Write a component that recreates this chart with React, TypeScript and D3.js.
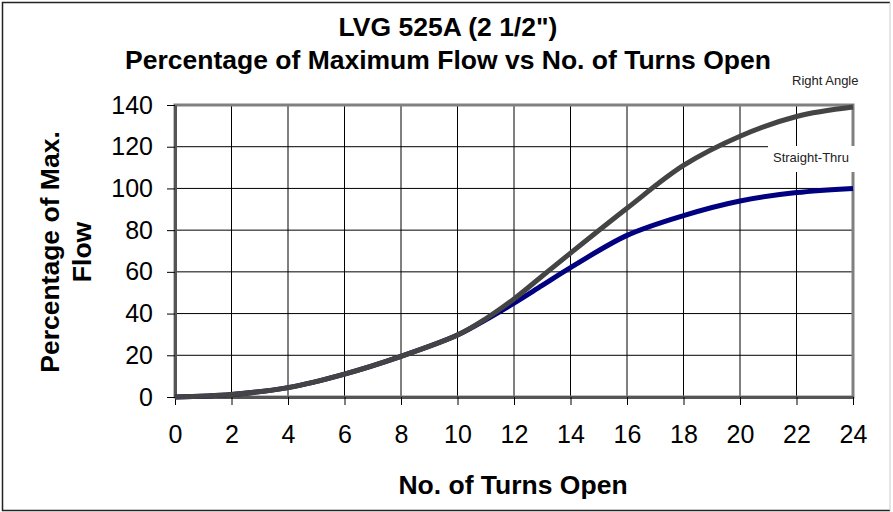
import { useEffect, useRef } from "react";
import * as d3 from "d3";

const turns = [0, 2, 4, 6, 8, 10, 11, 12, 13, 14, 16, 18, 20, 22, 24];
const rightAngle = [0, 1.2, 4.5, 11, 19.5, 29.7, 37.5, 47, 58, 69, 90.5, 111, 125, 134.5, 139];
const straightThru = [0, 1.2, 4.5, 11, 19.5, 29.7, 37, 45, 53.5, 62, 77.5, 87, 94, 98, 100];
const xTicks = [0, 2, 4, 6, 8, 10, 12, 14, 16, 18, 20, 22, 24];
const yTicks = [0, 20, 40, 60, 80, 100, 120, 140];
const titleLines = ['LVG 525A (2 1/2")', "Percentage of Maximum Flow vs No. of Turns Open"];

export default function App() {
  const ref = useRef<SVGSVGElement>(null);

  useEffect(() => {
    const svg = d3.select(ref.current);
    svg.selectAll("*").remove();

    const width = 893;
    const height = 512;
    const left = 175, right = 853, top = 105, bottom = 397;
    const font = "'Liberation Sans', Arial, sans-serif";

    svg.append("rect").attr("width", width).attr("height", height).attr("fill", "#fff");

    // outer frame
    svg.append("path")
      .attr("d", "M890,2.5 H2.5 V510.5 H890")
      .attr("fill", "none").attr("stroke", "#222").attr("stroke-width", 1.5);
    svg.append("line")
      .attr("x1", 890).attr("x2", 890).attr("y1", 2.5).attr("y2", 510.5)
      .attr("stroke", "#ccc").attr("stroke-width", 1);

    const x = d3.scaleLinear().domain([0, 24]).range([left, right]);
    const y = d3.scaleLinear().domain([0, 140]).range([bottom, top]);

    // grid
    const grid = svg.append("g").attr("stroke", "#000").attr("stroke-width", 1);
    xTicks.slice(1, -1).forEach((t) => {
      grid.append("line").attr("x1", x(t)).attr("x2", x(t)).attr("y1", top).attr("y2", bottom);
    });
    yTicks.slice(1, -1).forEach((t) => {
      grid.append("line").attr("x1", left).attr("x2", right).attr("y1", y(t)).attr("y2", y(t));
    });

    // plot frame
    svg.append("rect")
      .attr("x", left).attr("y", top).attr("width", right - left).attr("height", bottom - top)
      .attr("fill", "none").attr("stroke", "#808080").attr("stroke-width", 3);

    // axes
    const xAxis = svg.append("g")
      .attr("transform", `translate(0,${bottom})`)
      .call(d3.axisBottom(x).tickValues(xTicks).tickSize(8).tickPadding(20).tickSizeOuter(0));
    const yAxis = svg.append("g")
      .attr("transform", `translate(${left},0)`)
      .call(d3.axisLeft(y).tickValues(yTicks).tickSize(8).tickPadding(14).tickSizeOuter(0));
    [xAxis, yAxis].forEach((a) => {
      a.select(".domain").attr("stroke", "#555").attr("stroke-width", 3);
      a.selectAll(".tick line").attr("stroke", "#000");
      a.selectAll(".tick text")
        .attr("font-family", font).attr("font-size", 25).attr("fill", "#000");
    });

    // curves
    const line = (vals: number[]) =>
      d3.line<number>()
        .x((_, i) => x(turns[i]))
        .y((d) => y(d))
        .curve(d3.curveCatmullRom.alpha(0.5))(vals);

    svg.append("path").attr("d", line(straightThru))
      .attr("fill", "none").attr("stroke", "#000080").attr("stroke-width", 5);
    svg.append("path").attr("d", line(rightAngle))
      .attr("fill", "none").attr("stroke", "#444").attr("stroke-width", 5);

    // series labels
    svg.append("rect").attr("x", 768).attr("y", 146).attr("width", 88).attr("height", 26).attr("fill", "#fff");
    svg.append("text").attr("x", 773).attr("y", 162)
      .attr("font-family", font).attr("font-size", 13).attr("fill", "#222")
      .text("Straight-Thru");
    svg.append("text").attr("x", 792).attr("y", 85)
      .attr("font-family", font).attr("font-size", 13).attr("fill", "#222")
      .text("Right Angle");

    // titles
    svg.selectAll(".title")
      .data(titleLines)
      .enter()
      .append("text")
      .attr("x", 448)
      .attr("y", (_, i) => 36 + i * 33)
      .attr("text-anchor", "middle")
      .attr("font-family", font).attr("font-size", 26.5).attr("font-weight", "bold")
      .text((d) => d);

    svg.append("text")
      .attr("x", 513).attr("y", 494)
      .attr("text-anchor", "middle")
      .attr("font-family", font).attr("font-size", 26.5).attr("font-weight", "bold")
      .text("No. of Turns Open");

    const yt = svg.append("text")
      .attr("transform", `translate(0,252) rotate(-90)`)
      .attr("text-anchor", "middle")
      .attr("font-family", font).attr("font-size", 26.5).attr("font-weight", "bold");
    yt.append("tspan").attr("x", 0).attr("y", 59).text("Percentage of Max.");
    yt.append("tspan").attr("x", 0).attr("y", 91).text("Flow");
  }, []);

  return (
    <svg
      ref={ref}
      width={893}
      height={512}
      style={{ position: "absolute", left: 0, top: 0 }}
    />
  );
}
